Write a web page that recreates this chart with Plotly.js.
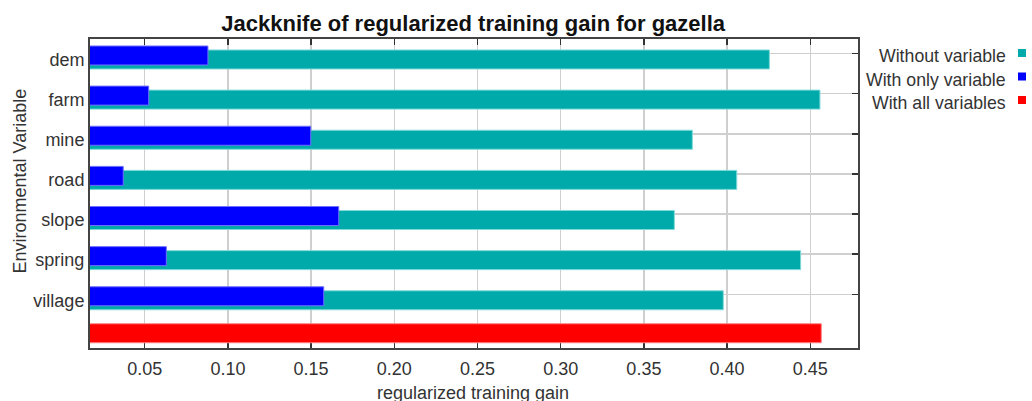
<!DOCTYPE html>
<html>
<head>
<meta charset="utf-8">
<script src="https://cdn.plot.ly/plotly-3.0.1.min.js"></script>
<style>html,body{margin:0;padding:0;background:#fff;}#chart{width:1032px;height:401px;}</style>
</head>
<body>
<div id="chart"></div>
<script>
// ---- data ----
const variables = ["dem", "farm", "mine", "road", "slope", "spring", "village"];
const withoutVariable = [0.4254, 0.4558, 0.3791, 0.4058, 0.3683, 0.4442, 0.3977];
const withOnlyVariable = [0.0880, 0.0524, 0.1498, 0.0371, 0.1666, 0.0630, 0.1576];
const allLabel = "all";
const withAllVariables = [0.4566];
const legendNames = ["Without variable", "With only variable", "With all variables"];
const xTicks = [0.05, 0.10, 0.15, 0.20, 0.25, 0.30, 0.35, 0.40, 0.45];
const xTickText = ["0.05", "0.10", "0.15", "0.20", "0.25", "0.30", "0.35", "0.40", "0.45"];

const teal = "#00AAAA", blue = "#0000FF", red = "#FF0000";
const font = "Liberation Sans, Arial, sans-serif";
const fs = 18;
const barW = 0.4735;

const traces = [
  {type: "bar", orientation: "h", name: legendNames[0], y: variables, x: withoutVariable,
   base: 0, width: barW, offset: -0.0872,
   marker: {color: teal, line: {color: "#7fd9d9", width: 1}}, showlegend: false, hoverinfo: "x+y"},
  {type: "bar", orientation: "h", name: legendNames[1], y: variables, x: withOnlyVariable,
   base: 0, width: barW, offset: -0.1869,
   marker: {color: blue, line: {color: "#6f6fff", width: 1}}, showlegend: false, hoverinfo: "x+y"},
  {type: "bar", orientation: "h", name: legendNames[2], y: [allLabel], x: withAllVariables,
   base: 0, width: barW, offset: -0.265,
   marker: {color: red, line: {color: "#ff8080", width: 1}}, showlegend: false, hoverinfo: "x"}
];

const W = 1032, H = 401, L = 90, R = 174, T = 39, B = 53;
const pw = W - L - R, ph = H - T - B;
const px2x = p => (p - L) / pw;
const py2y = p => (H - B - p) / ph;

const legendColors = [teal, blue, red];
const legendRows = [56, 79.5, 103];
const annotations = [
  {text: "Environmental Variable", textangle: -90, xref: "paper", yref: "paper",
   x: px2x(19), y: py2y(181.5), xanchor: "center", yanchor: "middle", showarrow: false,
   font: {family: font, size: fs, color: "#333"}},
  {text: "regularized training gain", xref: "paper", yref: "paper",
   x: px2x(472.5), y: py2y(393), xanchor: "center", yanchor: "middle", showarrow: false,
   font: {family: font, size: fs, color: "#333"}}
];
const shapes = [];
legendNames.forEach((n, i) => {
  annotations.push({text: n, xref: "paper", yref: "paper", x: px2x(1008), y: py2y(legendRows[i]),
    xanchor: "right", yanchor: "middle", showarrow: false,
    font: {family: font, size: 17.7, color: "#333"}});
  const cy = legendRows[i] - 3;
  shapes.push({type: "rect", xref: "paper", yref: "paper",
    x0: px2x(1018), x1: px2x(1026), y0: py2y(cy + 4), y1: py2y(cy - 4),
    fillcolor: legendColors[i], line: {width: 0}});
});

const layout = {
  width: W, height: H,
  margin: {l: L, r: R, t: T, b: B, pad: 0},
  paper_bgcolor: "#fff", plot_bgcolor: "#fff",
  barmode: "overlay",
  showlegend: false,
  title: {text: "<b>Jackknife of regularized training gain for gazella</b>",
          x: 0.4585, xanchor: "center", y: 1 - 23 / H, yanchor: "middle",
          font: {family: font, size: 22, color: "#111"}},
  xaxis: {range: [0.01713, 0.47867], tickvals: xTicks, ticktext: xTickText,
          ticks: "inside", ticklen: 6, tickcolor: "#333", tickwidth: 1.5,
          showline: true, linecolor: "#444", linewidth: 2, mirror: "ticks",
          showgrid: true, gridcolor: "#cfcfcf", gridwidth: 1.5, zeroline: false,
          layer: "below traces", ticklabelstandoff: 3,
          tickfont: {family: font, size: fs, color: "#333"}},
  yaxis: {type: "category", categoryorder: "array", categoryarray: variables.concat([allLabel]),
          range: [7.339, -0.361], tickvals: variables, ticktext: variables,
          ticks: "inside", ticklen: 6, tickcolor: "#333", tickwidth: 1.5,
          showline: true, linecolor: "#444", linewidth: 2, mirror: "ticks",
          showgrid: true, gridcolor: "#cfcfcf", gridwidth: 1.5, zeroline: false,
          layer: "below traces", ticklabelstandoff: 0, ticklabelshift: -6,
          tickfont: {family: font, size: fs, color: "#333"}},
  annotations: annotations,
  shapes: shapes
};

Plotly.newPlot("chart", traces, layout, {displayModeBar: false, staticPlot: true});
</script>
</body>
</html>
